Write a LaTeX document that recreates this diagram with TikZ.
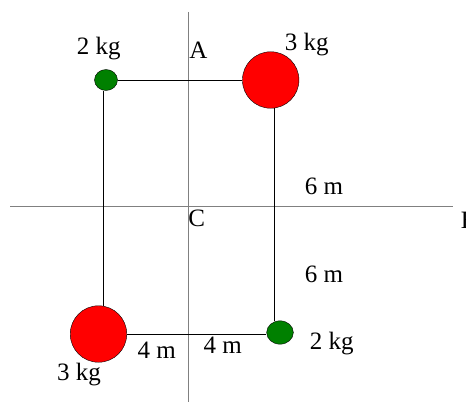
\documentclass[tikz,border=0pt]{standalone}
\usepackage{fontspec}
\setmainfont{Liberation Serif}
\usepackage{tikz}
\usetikzlibrary{shapes.geometric}
\definecolor{massgreen}{HTML}{008000}
\definecolor{massred}{HTML}{FF0000}
\tikzset{
  heavymass/.style = {circle,draw=black,fill=massred,minimum size=56.5pt,inner sep=0pt},
  lightmass/.style = {ellipse,draw=black,fill=massgreen,inner sep=0pt},
  rod/.style       = {black,line width=0.9pt},
  axisline/.style  = {gray,line width=1pt},
  lbl/.style       = {anchor=base,inner sep=0pt,font=\fontsize{25}{29}\selectfont}
}

\begin{document}
\begin{tikzpicture}[x=1pt,y=-1pt]
  \useasboundingbox (0,0) rectangle (466,404);
  \coordinate (ytop) at (188,12);
  \coordinate (ybot) at (188,402);
  \coordinate (xleft) at (10,206);
  \coordinate (xright) at (452.7,206);
  \draw[axisline] (ytop) -- (ybot);
  \draw[axisline] (xleft) -- (xright);
  \node[lightmass,minimum width=23pt,minimum height=21pt] (mtl) at (106,80) {};
  \node[heavymass] (mtr) at (270.7,80) {};
  \node[heavymass] (mbl) at (98.5,334) {};
  \node[lightmass,minimum width=26.7pt,minimum height=23.4pt] (mbr) at (280,332.5) {};
  \draw[rod] (mtl) -- (mtr);
  \draw[rod] (mbl.east) -- (mbl.east -| mbr.west);
  \draw[rod] ([xshift=-3pt]mtl.south) -- ([xshift=-3pt]mtl.south |- mbl.north);
  \draw[rod] ([xshift=3.3pt]mtr.south) -- ([xshift=3.3pt]mtr.south |- mbr.north);
  \node[lbl] (lA) at (198.3,58.3) {A};
  \node[lbl,anchor=base west] (lB) at (460.7,228) {B};
  \node[lbl] (lC) at (196.7,226.7) {C};
  \node[lbl] (wtl) at (98.7,55) {2 kg};
  \node[lbl] (wtr) at (306.7,51) {3 kg};
  \node[lbl] (wbl) at (79,380.7) {3 kg};
  \node[lbl] (wbr) at (331.7,349.3) {2 kg};
  \node[lbl] (dup) at (324,194) {6 m};
  \node[lbl] (ddown) at (324,282.3) {6 m};
  \node[lbl] (dleft) at (156.7,358.3) {4 m};
  \node[lbl] (dright) at (222.8,353.3) {4 m};
\end{tikzpicture}
\end{document}
